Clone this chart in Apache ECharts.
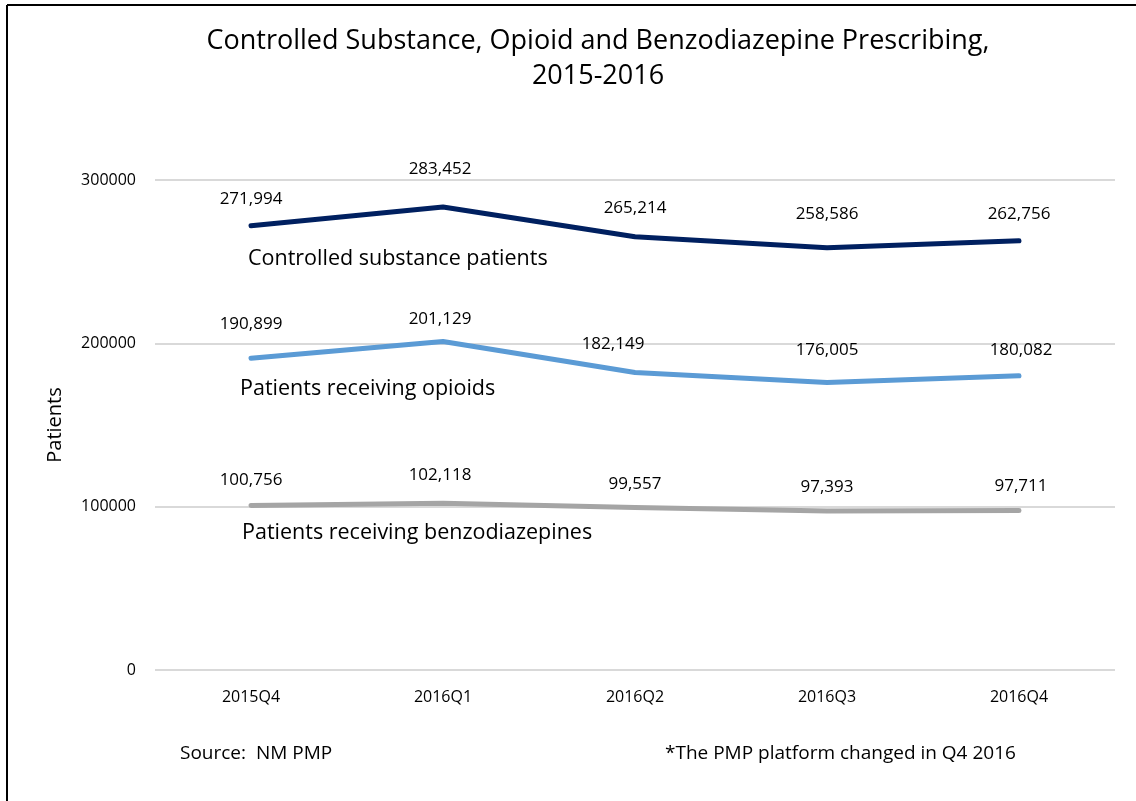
<!DOCTYPE html>
<html><head><meta charset="utf-8">
<script src="https://cdn.jsdelivr.net/npm/echarts@6/dist/echarts.min.js"></script>
<style>html,body{margin:0;padding:0;background:#fff}#c{width:1136px;height:801px}</style>
</head><body><div id="c"></div>
<script>
const categories = ['2015Q4','2016Q1','2016Q2','2016Q3','2016Q4'];
const controlled = [271994, 283452, 265214, 258586, 262756];
const opioids = [190899, 201129, 182149, 176005, 180082];
const benzos = [100756, 102118, 99557, 97393, 97711];
const seriesNames = ['Controlled substance patients','Patients receiving opioids','Patients receiving benzodiazepines'];
const yTicks = [0, 100000, 200000, 300000];

const FONT = '"Open Sans", sans-serif';
const chart = echarts.init(document.getElementById('c'));
const fmt = v => v.toLocaleString('en-US');
// label nudges (style only, in px) mimicking the manually placed data labels
function mk(name, data, color, nudges){
  return {name, type:'line', symbol:'circle', symbolSize:1, showSymbol:true, smooth:false,
    data,
    lineStyle:{color, width:5, cap:'round', join:'round'},
    itemStyle:{color},
    label:{show:true, position:'top', distance:18, color:'#000', fontSize:17, fontFamily:FONT,
      formatter:p=>fmt(p.value)},
    labelLayout:p=>({hideOverlap:false, dx:nudges[p.dataIndex][0], dy:nudges[p.dataIndex][1]}),
    emphasis:{disabled:true}, silent:true};
}
chart.setOption({
  animation:false,
  backgroundColor:'#fff',
  title:{text:'Controlled Substance, Opioid and Benzodiazepine Prescribing,\n2015-2016',
    left:593, textAlign:'center', top:19,
    textStyle:{fontFamily:FONT, fontSize:27, fontWeight:'normal', color:'#000', lineHeight:35}},
  grid:{left:155, right:21, top:180, bottom:131},
  xAxis:{type:'category', data:categories, boundaryGap:true,
    axisLine:{show:false}, axisTick:{show:false},
    axisLabel:{color:'#000', fontSize:16, fontFamily:FONT, margin:19}},
  yAxis:{type:'value', min:yTicks[0], max:yTicks[yTicks.length-1], interval:100000,
    name:'Patients', nameLocation:'middle', nameGap:90, nameRotate:90,
    nameTextStyle:{color:'#000', fontSize:20, fontFamily:FONT},
    axisLine:{show:false}, axisTick:{show:false},
    axisLabel:{color:'#000', fontSize:16, fontFamily:FONT, margin:19, formatter:v=>String(v)},
    splitLine:{lineStyle:{color:'#d9d9d9', width:2}}},
  series:[
    mk(seriesNames[0], controlled, '#002060', [[0,0],[-3,-11],[0,-2],[0,-6],[0,0]]),
    mk(seriesNames[1], opioids, '#5b9bd5', [[0,-7],[-3,5],[-22,-1],[0,-5],[2,1]]),
    mk(seriesNames[2], benzos, '#a5a5a5', [[0,2],[-3,-1],[0,4],[0,3],[2,3]])
  ],
  graphic:[
    {type:'line', shape:{x1:7,y1:5,x2:1136,y2:5}, style:{stroke:'#000', lineWidth:2}},
    {type:'line', shape:{x1:7,y1:5,x2:7,y2:801}, style:{stroke:'#000', lineWidth:2}},
    {type:'text', left:248, top:248, style:{text:seriesNames[0], fontSize:21.5, fontFamily:FONT, fill:'#000'}},
    {type:'text', left:240, top:378, style:{text:seriesNames[1], fontSize:21.5, fontFamily:FONT, fill:'#000'}},
    {type:'text', left:242, top:522, style:{text:seriesNames[2], fontSize:21.5, fontFamily:FONT, fill:'#000'}},
    {type:'text', left:180, top:744, style:{text:'Source:  NM PMP', fontSize:19, fontFamily:FONT, fill:'#000'}},
    {type:'text', left:665, top:744, style:{text:'*The PMP platform changed in Q4 2016', fontSize:19, fontFamily:FONT, fill:'#000'}}
  ]
});
</script></body></html>
